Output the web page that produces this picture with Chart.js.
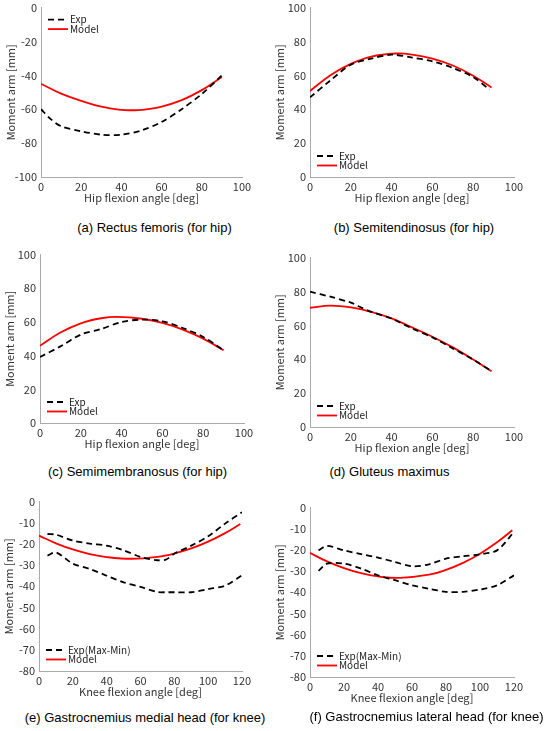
<!DOCTYPE html>
<html lang="en">
<head>
<meta charset="UTF-8">
<title>Moment arms</title>
<script src="https://cdn.jsdelivr.net/npm/chart.js"></script>
<style>
    body { margin: 0; background: #fff; }
    #page { position: relative; width: 550px; height: 731px; overflow: hidden; }
    canvas { position: absolute; }
    .cap { position: absolute; font-family: "Liberation Sans", Arial, sans-serif; font-size: 13px; color: #000; white-space: nowrap; transform: translate(-50%, -50%); }
</style>
</head>
<body>
<div id="page"></div>
<script>
// (a) Rectus femoris
const aExpX = [0, 5, 10, 20, 30, 40, 50, 60, 70, 80, 90];
const aExpY = [-60, -66, -70, -73, -75, -75, -72.5, -67.5, -60, -51, -40];
const aModX = [0, 10, 20, 30, 40, 45, 50, 60, 70, 80, 90];
const aModY = [-45, -50.8, -55, -58.5, -60.4, -60.6, -60.4, -58.4, -54.6, -48.7, -41];

// (b) Semitendinosus
const bExpX = [0, 10, 20, 30, 40, 50, 60, 70, 80, 88];
const bExpY = [47, 57, 66.3, 69.9, 72.2, 70.5, 68.3, 64.4, 59, 51.6];
const bModX = [0, 10, 20, 30, 42, 50, 60, 70, 80, 89];
const bModY = [50.8, 60.1, 66.8, 71.1, 72.9, 72.3, 69.9, 65.8, 59.8, 52.8];

// (c) Semimembranosus
const cExpX = [0, 10, 20, 30, 40, 50, 60, 70, 80, 90];
const cExpY = [39.2, 45.5, 52.5, 55.8, 60, 61.4, 60.4, 56.4, 51.1, 43.2];
const cModX = [0, 10, 20, 30, 38, 50, 60, 70, 80, 90];
const cModY = [45.9, 53.7, 59.2, 62.2, 63, 61.9, 59.5, 55.5, 50.1, 43.2];

// (d) Gluteus maximus
const dExpX = [0, 10, 20, 26, 30, 40, 50, 60, 70, 80, 89];
const dExpY = [79.9, 76.9, 73.4, 70, 68, 64, 58.2, 52.9, 46.4, 39.8, 33];
const dModX = [0, 10, 20, 30, 40, 50, 60, 70, 80, 89];
const dModY = [70.4, 71.6, 70.6, 68, 64.1, 58.8, 53.3, 47, 39.8, 32.9];

// (e) Gastrocnemius medial head
const eExpX = [5, 10, 20, 30, 40, 50, 60, 70, 75, 80, 90, 100, 110, 120];
const eMaxY = [-15.3, -15.6, -18.4, -19.8, -20.8, -23, -26.1, -27.7, -27.4, -24.6, -20.8, -16.4, -10.4, -5];
const eMinY = [-25.5, -24, -29.3, -31.8, -35, -38.1, -40.3, -42.7, -42.8, -42.8, -42.8, -41.3, -39.7, -34.8];
const eModX = [0, 10, 20, 30, 40, 55, 70, 80, 90, 100, 110, 119];
const eModY = [-16.1, -19.7, -22.6, -24.8, -26.2, -27, -26.1, -24.5, -22.1, -18.9, -14.9, -10.6];

// (f) Gastrocnemius lateral head
const fExpX = [5, 10, 20, 30, 40, 50, 60, 70, 80, 90, 100, 110, 120];
const fMaxY = [-20.2, -18.1, -20.2, -22, -23.6, -25.7, -27.7, -26.8, -24.1, -23, -22, -20.2, -11.5];
const fMinY = [-29.9, -26.5, -26.5, -28.8, -32, -34.3, -36.7, -38.3, -39.8, -39.8, -38.7, -36.7, -32];
const fModX = [0, 10, 20, 30, 40, 53, 70, 80, 90, 100, 110, 119];
const fModY = [-21.4, -25.4, -28.6, -31, -32.5, -33.2, -31.7, -29.4, -26.1, -21.8, -16.4, -10.7];

const hipTicks = [0, 20, 40, 60, 80, 100];
const kneeTicks = [0, 20, 40, 60, 80, 100, 120];
const hipLabel = "Hip flexion angle [deg]";
const kneeLabel = "Knee flexion angle [deg]";
const yLabel = "Moment arm [mm]";

function pts(xs, ys) { return xs.map((x, i) => ({ x: x, y: ys[i] })); }

function expSet(label, xs, ys, showInLegend) {
    return { label: label, data: pts(xs, ys), borderColor: "#000", borderWidth: 1.8,
             borderDash: [6, 4], pointRadius: 0, tension: 0.3, inLegend: showInLegend };
}
function modSet(xs, ys) {
    return { label: "Model", data: pts(xs, ys), borderColor: "#ff0000", borderWidth: 1.8,
             pointRadius: 0, tension: 0.4, inLegend: true };
}

const panels = [
    { rect: [40.7, 7.3, 241.7, 176.7], xMax: 100, xTicks: hipTicks, yMin: -100, yMax: 0, yStep: 20, xTitle: hipLabel, legend: "top",
      caption: "(a) Rectus femoris (for hip)", cap: [154.5, 227],
      sets: [expSet("Exp", aExpX, aExpY, true), modSet(aModX, aModY)] },
    { rect: [310, 7.3, 514.3, 176.7], xMax: 100, xTicks: hipTicks, yMin: 0, yMax: 100, yStep: 20, xTitle: hipLabel, legend: "bottom",
      caption: "(b) Semitendinosus (for hip)", cap: [414, 227],
      sets: [expSet("Exp", bExpX, bExpY, true), modSet(bModX, bModY)] },
    { rect: [40, 255, 244.3, 423.3], xMax: 100, xTicks: hipTicks, yMin: 0, yMax: 100, yStep: 20, xTitle: hipLabel, legend: "bottom",
      caption: "(c) Semimembranosus (for hip)", cap: [137.5, 470.5],
      sets: [expSet("Exp", cExpX, cExpY, true), modSet(cModX, cModY)] },
    { rect: [310.3, 257.7, 514.3, 426.7], xMax: 100, xTicks: hipTicks, yMin: 0, yMax: 100, yStep: 20, xTitle: hipLabel, legend: "bottom",
      caption: "(d) Gluteus maximus", cap: [389.5, 470.5],
      sets: [expSet("Exp", dExpX, dExpY, true), modSet(dModX, dModY)] },
    { rect: [39.3, 502, 242.3, 671.3], xMax: 120, xTicks: kneeTicks, yMin: -80, yMax: 0, yStep: 10, xTitle: kneeLabel, legend: "bottom",
      caption: "(e) Gastrocnemius medial head (for knee)", cap: [145, 717],
      sets: [expSet("Exp(Max-Min)", eExpX, eMaxY, true), expSet("Exp(Max-Min)", eExpX, eMinY, false), modSet(eModX, eModY)] },
    { rect: [310, 507.3, 514.3, 676.7], xMax: 120, xTicks: kneeTicks, yMin: -80, yMax: 0, yStep: 10, xTitle: kneeLabel, legend: "bottom",
      caption: "(f) Gastrocnemius lateral head (for knee)", cap: [426.5, 716],
      sets: [expSet("Exp(Max-Min)", fExpX, fMaxY, true), expSet("Exp(Max-Min)", fExpX, fMinY, false), modSet(fModX, fModY)] }
];

const AXW = 44, AXH = 32, PADT = 10, PADR = 14;
const FONT = "'Noto Sans CJK JP', 'DejaVu Sans', sans-serif";
const axisFont = { family: FONT, size: 11 };

// legend and axis titles drawn by hand so they sit where the original has them
const extras = {
    id: "extras",
    afterDraw(chart, args, opts) {
        const ctx = chart.ctx, area = chart.chartArea;
        ctx.save();
        ctx.fillStyle = "#333";
        ctx.font = "11px " + FONT;
        ctx.textAlign = "center";
        ctx.textBaseline = "middle";
        ctx.fillText(opts.xTitle, (area.left + area.right) / 2, area.bottom + 20.5);
        ctx.translate(area.left - 30.5, (area.top + area.bottom) / 2);
        ctx.rotate(-Math.PI / 2);
        ctx.fillText(yLabel, 0, 0);
        ctx.restore();

        const items = chart.data.datasets.filter(d => d.inLegend);
        let y = opts.where === "top" ? area.top + 12 : area.bottom - 21;
        const x = area.left + 7;
        ctx.save();
        ctx.font = "10px " + FONT;
        ctx.textBaseline = "middle";
        items.forEach(d => {
            ctx.strokeStyle = d.borderColor;
            ctx.lineWidth = d.borderWidth;
            ctx.setLineDash(d.borderDash || []);
            ctx.beginPath();
            ctx.moveTo(x, y);
            ctx.lineTo(x + 20, y);
            ctx.stroke();
            ctx.setLineDash([]);
            ctx.fillStyle = "#222";
            ctx.textAlign = "left";
            ctx.fillText(d.label, x + 22, y);
            y += 9.5;
        });
        ctx.restore();
    }
};

const page = document.getElementById("page");

function makeConfig(p) {
    const xt = p.xTicks;
    return {
        type: "line",
        data: { datasets: p.sets },
        plugins: [extras],
        options: {
            responsive: false,
            maintainAspectRatio: false,
            animation: false,
            layout: { padding: { top: PADT, right: PADR, left: 0, bottom: 0 } },
            plugins: { legend: { display: false }, tooltip: { enabled: false },
                       extras: { where: p.legend, xTitle: p.xTitle } },
            scales: {
                x: {
                    type: "linear", min: 0, max: p.xMax,
                    afterBuildTicks: s => { s.ticks = xt.map(v => ({ value: v })); },
                    afterFit: s => { s.height = AXH; },
                    grid: { display: false, drawTicks: false },
                    border: { color: "#aaa", width: 1 },
                    ticks: { font: axisFont, color: "#333", padding: 3, maxRotation: 0 }
                },
                y: {
                    min: p.yMin, max: p.yMax,
                    afterFit: s => { s.width = AXW; },
                    grid: { display: false, drawTicks: false },
                    border: { color: "#aaa", width: 1 },
                    ticks: { stepSize: p.yStep, font: axisFont, color: "#333", padding: 4 }
                }
            }
        }
    };
}

function place(cv, left, top, w, h) {
    cv.style.left = left + "px";
    cv.style.top = top + "px";
    cv.width = w; cv.height = h;
    cv.style.width = w + "px";
    cv.style.height = h + "px";
}

panels.forEach(p => {
    const [l, t, r, b] = p.rect;
    let left = Math.round(l - AXW), top = Math.round(t - PADT);
    let w = Math.round(r + PADR - left), h = Math.round(b + AXH - top);
    const cv = document.createElement("canvas");
    page.appendChild(cv);
    place(cv, left, top, w, h);
    let chart = new Chart(cv, makeConfig(p));

    // nudge the canvas so the plot area lands on the measured rectangle
    const a = chart.chartArea;
    const dw = Math.round((r - l) - (a.right - a.left));
    const dh = Math.round((b - t) - (a.bottom - a.top));
    const nl = Math.round(l - a.left), nt = Math.round(t - a.top);
    if (dw || dh || nl !== left || nt !== top) {
        chart.destroy();
        place(cv, nl, nt, w + dw, h + dh);
        chart = new Chart(cv, makeConfig(p));
    }

    const cap = document.createElement("div");
    cap.className = "cap";
    cap.textContent = p.caption;
    cap.style.left = p.cap[0] + "px";
    cap.style.top = p.cap[1] + "px";
    page.appendChild(cap);
});
</script>
</body>
</html>
